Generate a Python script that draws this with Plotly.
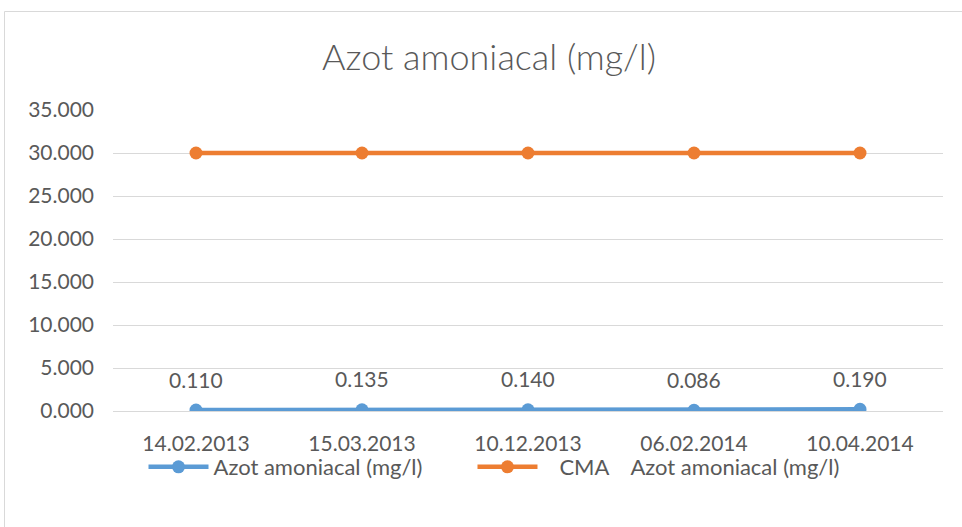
import plotly.graph_objects as go

categories = ["14.02.2013", "15.03.2013", "10.12.2013", "06.02.2014", "10.04.2014"]
azot_values = [0.110, 0.135, 0.140, 0.086, 0.190]
cma_values = [30, 30, 30, 30, 30]
azot_labels = ["0.110", "0.135", "0.140", "0.086", "0.190"]
y_ticks = [0, 5, 10, 15, 20, 25, 30, 35]
y_tick_labels = ["0.000", "5.000", "10.000", "15.000", "20.000", "25.000", "30.000", "35.000"]

BLUE = "#5B9BD5"
ORANGE = "#ED7D31"
TEXT = "#595959"
FONT = "Lato"
FS = 21
NB = "&nbsp;"

W, H = 962, 527
ml, mr, mt, mb = 113, 19, 110, 116
pw = W - ml - mr
ph = H - mt - mb

fig = go.Figure()
fig.add_trace(go.Scatter(
    x=categories, y=azot_values, mode="lines+markers",
    name="Azot amoniacal (mg/l)" + NB * 8,
    line=dict(color=BLUE, width=4.5),
    marker=dict(color=BLUE, size=13),
))
fig.add_trace(go.Scatter(
    x=categories, y=cma_values, mode="lines+markers",
    name=NB * 3 + "CMA" + NB * 4 + "Azot amoniacal (mg/l)",
    line=dict(color=ORANGE, width=4.5),
    marker=dict(color=ORANGE, size=13),
))

for c, v, t in zip(categories, azot_values, azot_labels):
    fig.add_annotation(x=c, y=v, text=t, showarrow=False, yshift=31,
                       font=dict(family=FONT, size=FS, color=TEXT))

# outer chart border
fig.add_shape(type="rect", xref="paper", yref="paper",
              x0=(4.5 - ml) / pw, x1=(W + 5 - ml) / pw,
              y0=(H - mb - (H + 5)) / ph, y1=(H - mb - 11.5) / ph,
              line=dict(color="#D9D9D9", width=1), layer="below")

fig.update_layout(
    width=W, height=H,
    margin=dict(l=ml, r=mr, t=mt, b=mb, autoexpand=False),
    paper_bgcolor="white", plot_bgcolor="white",
    font=dict(family=FONT, size=FS, color=TEXT),
    title=dict(text="Azot amoniacal (mg/l)", x=489 / W, xanchor="center",
               xref="container",
               y=1 - 57 / H, yanchor="middle",
               font=dict(family=FONT, size=36, color=TEXT, weight=300)),
    showlegend=True,
    legend=dict(orientation="h", x=(494 - ml) / pw, xanchor="center",
                y=(ph - (467 - mt)) / ph,
                yanchor="middle", font=dict(family=FONT, size=22, color=TEXT),
                itemwidth=60, bgcolor="rgba(0,0,0,0)"),
    xaxis=dict(type="category", range=[-0.5, 4.5], showgrid=False, showline=False,
               zeroline=False, ticks="", ticklabelstandoff=18,
               tickfont=dict(size=FS, color=TEXT)),
    yaxis=dict(range=[0, 35], tickvals=y_ticks, ticktext=y_tick_labels,
               showgrid=True, gridcolor="#D9D9D9", gridwidth=1,
               zeroline=True, zerolinecolor="#D9D9D9", zerolinewidth=1,
               showline=False, ticks="", ticklabelstandoff=18,
               tickfont=dict(size=FS, color=TEXT)),
)

fig.write_html("out.html", config={"displayModeBar": False},
               post_script="document.body.style.margin='0';document.body.style.overflow='hidden';")
